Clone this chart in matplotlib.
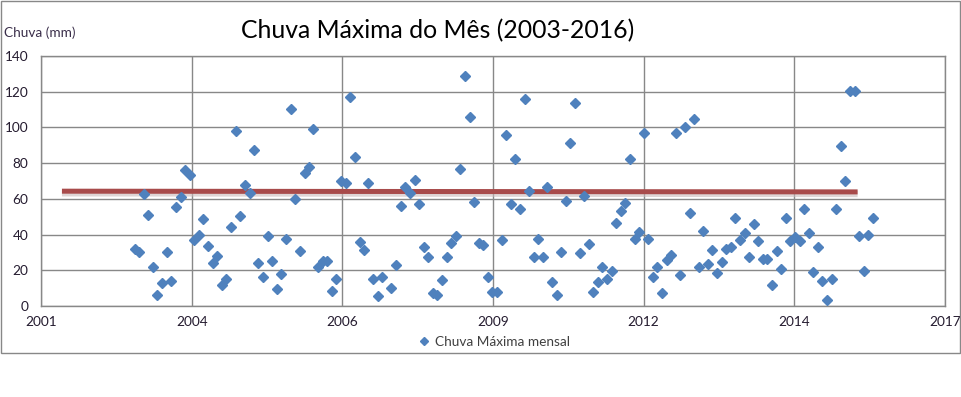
import numpy as np
import pandas as pd
import matplotlib
matplotlib.use('Agg')
import matplotlib.pyplot as plt
import matplotlib.dates as mdates
from matplotlib.lines import Line2D
from matplotlib.patches import Rectangle

plt.rcParams['font.family'] = ['Lato', 'DejaVu Sans']

# chuva maxima mensal (mm), jan/2003 ... jun/2016 (um mes sem dado)
primeiro_mes = '2003-01-01'
chuva = [
    31.7, 30.2, 62.7, 51.0, 21.7, 6.3, 12.7, 30.2, 14.2, 55.6, 60.9, 76.2,      # 2003
    73.2, 37.0, 39.6, 48.5, 33.6, 23.9, 28.0, 11.6, 15.3, 44.4, 97.8, 50.4,     # 2004
    68.0, 63.1, 87.4, 23.9, 16.1, 39.2, 25.4, 9.3, 17.9, 37.7, 110.1, 60.1,     # 2005
    30.6, 74.7, 77.7, 99.3, 22.0, 25.0, 25.0, 8.2, 14.9, 69.8, 68.7, 117.2,     # 2006
    83.3, 35.8, 31.4, 68.7, 15.3, 5.6, 16.1, np.nan, 10.1, 22.8, 56.0, 66.5,    # 2007
    63.1, 70.6, 57.1, 32.9, 27.3, 7.1, 6.0, 14.6, 27.3, 35.1, 39.2, 76.5,       # 2008
    128.8, 106.0, 58.1, 35.1, 34.0, 16.1, 7.8, 7.8, 37.0, 96.0, 57.1, 82.1,     # 2009
    54.1, 116.1, 64.6, 27.6, 37.7, 27.6, 66.8, 13.4, 6.0, 30.2, 58.6, 91.1,     # 2010
    113.5, 29.7, 61.4, 34.7, 7.6, 13.4, 21.7, 14.9, 19.8, 46.3, 53.0, 57.5,     # 2011
    82.5, 37.3, 41.2, 96.7, 37.3, 16.1, 21.7, 7.1, 25.8, 28.7, 96.7, 17.2,      # 2012
    100.4, 51.9, 104.9, 22.0, 41.8, 23.5, 31.4, 18.7, 24.6, 31.7, 32.9, 49.3,   # 2013
    37.0, 40.7, 27.3, 45.9, 36.6, 26.1, 26.1, 11.9, 30.6, 20.9, 49.3, 36.6,     # 2014
    38.5, 36.6, 54.1, 40.7, 19.0, 33.2, 13.8, 3.4, 15.3, 54.5, 89.6, 69.8,      # 2015
    120.6, 120.6, 39.2, 19.8, 39.9, 49.3,                                       # 2016
]
meses = pd.date_range(primeiro_mes, periods=len(chuva), freq='MS')

# linha de tendencia (inicio e fim)
tend_datas = pd.to_datetime(['2001-09-05', '2016-02-20'])
tend_vals = [64.3, 63.9]

# eixo x do excel: numeros de serie 37000..43000, passo 1000 dias
serie_ticks = [37000, 38000, 39000, 40000, 41000, 42000, 43000]
datas_ticks = pd.Timestamp('1899-12-30') + pd.to_timedelta(serie_ticks, unit='D')

azul = '#4F81BD'
cinza = '#888888'

fig = plt.figure(figsize=(9.61, 3.97), dpi=100)
ax = fig.add_axes([41/961, 1 - 306/397, 904/961, 250/397])

x_ticks = mdates.date2num(datas_ticks)
ax.set_xlim(x_ticks[0], x_ticks[-1])
ax.set_ylim(0, 140)
ax.set_xticks(x_ticks)
ax.set_xticklabels([d.strftime('%Y') for d in datas_ticks])
ax.set_yticks(np.arange(0, 141, 20))

ax.grid(True, color=cinza, linewidth=1.0)
ax.set_axisbelow(True)
for s in ax.spines.values():
    s.set_color(cinza)
    s.set_linewidth(1.0)
ax.tick_params(length=0, labelsize=9.8, colors='#241B2F')
ax.tick_params(axis='y', pad=9)
ax.tick_params(axis='x', pad=7)

# tendencia com sombra
tx = mdates.date2num(tend_datas)
ax.plot(tx, np.array(tend_vals) - 1.2, color='#C9B9B9', linewidth=4.5, alpha=0.6,
        solid_capstyle='butt', zorder=2)
ax.plot(tx, tend_vals, color='#A84B4B', linewidth=3.6, solid_capstyle='butt', zorder=3)

ax.plot(mdates.date2num(meses), chuva, linestyle='none', marker='D', markersize=5,
        color=azul, markeredgecolor=azul, zorder=4)

fig.text(438/961, 1 - 31/397, 'Chuva Máxima do Mês (2003-2016)', fontsize=17.8,
         ha='center', va='center', color='black')
fig.text(4/961, 1 - 33/397, 'Chuva (mm)', fontsize=9.8, ha='left', va='center',
         color='#3A2E4A')

handle = Line2D([], [], linestyle='none', marker='D', markersize=4.5, color=azul)
fig.legend([handle], ['Chuva Máxima mensal'], loc='center', bbox_to_anchor=(494/961, 1 - 342/397),
           frameon=False, fontsize=9.8, handletextpad=0.3, handlelength=1.0, labelcolor='#404040')

fig.patches.append(Rectangle((0.5/961, 1 - 353/397), 959.5/961, 352/397,
                             transform=fig.transFigure, fill=False, edgecolor=cinza, linewidth=1.0))

fig.savefig('out.png', dpi=100)
